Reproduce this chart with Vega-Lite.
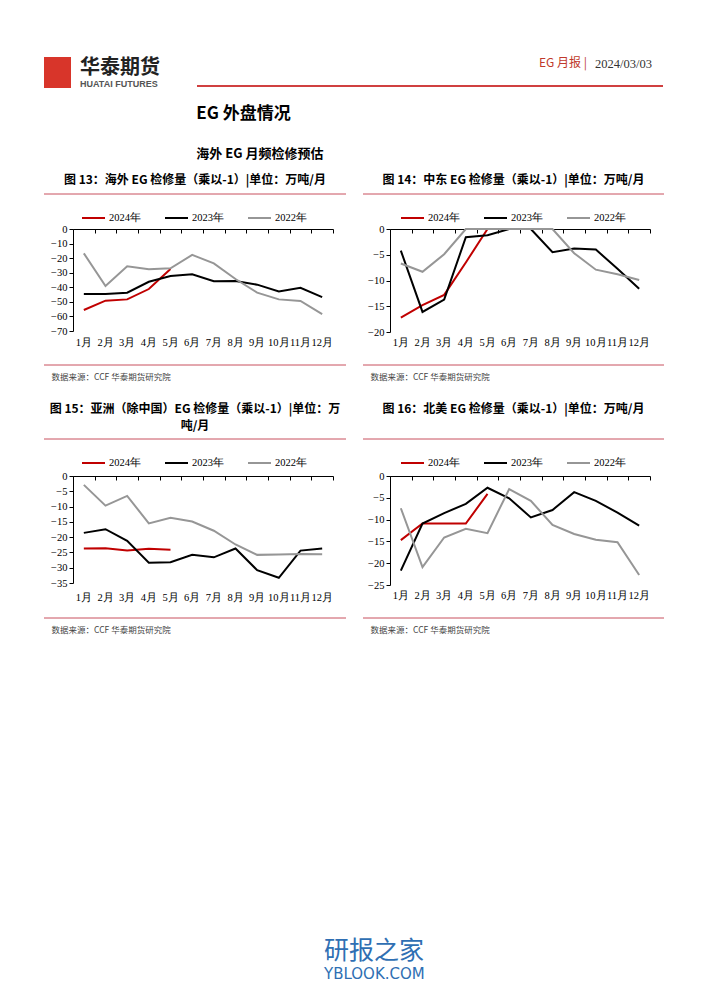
{
  "$schema": "https://vega.github.io/schema/vega-lite/v6.json",
  "background": "white",
  "padding": {"left": 43, "top": 57, "right": 0, "bottom": 0},
  "config": {
    "view": {"stroke": null},
    "axis": {"labelFont": "Liberation Serif", "labelFontSize": 10.5, "labelColor": "#000", "domainColor": "#000", "tickColor": "#000", "grid": false},
    "legend": {"orient": "none", "direction": "horizontal", "symbolType": "stroke", "symbolSize": 529, "symbolStrokeWidth": 2, "labelFont": "Liberation Serif", "labelFontSize": 10.5, "labelColor": "#000", "labelOffset": 3, "columnPadding": 20, "padding": 0}
  },
  "datasets": {
    "rule": [{"line": 0}],
    "c13": [
      {"m": 1, "s": "2024年", "v": -55.6}, {"m": 2, "s": "2024年", "v": -49.2}, {"m": 3, "s": "2024年", "v": -48.3}, {"m": 4, "s": "2024年", "v": -41.2}, {"m": 5, "s": "2024年", "v": -27.5},
      {"m": 1, "s": "2023年", "v": -44.6}, {"m": 2, "s": "2023年", "v": -44.6}, {"m": 3, "s": "2023年", "v": -43.7}, {"m": 4, "s": "2023年", "v": -36.2}, {"m": 5, "s": "2023年", "v": -32.3}, {"m": 6, "s": "2023年", "v": -31.1}, {"m": 7, "s": "2023年", "v": -35.9}, {"m": 8, "s": "2023年", "v": -35.7}, {"m": 9, "s": "2023年", "v": -38.2}, {"m": 10, "s": "2023年", "v": -42.8}, {"m": 11, "s": "2023年", "v": -40.3}, {"m": 12, "s": "2023年", "v": -46.7},
      {"m": 1, "s": "2022年", "v": -16.7}, {"m": 2, "s": "2022年", "v": -39.1}, {"m": 3, "s": "2022年", "v": -25.6}, {"m": 4, "s": "2022年", "v": -27.7}, {"m": 5, "s": "2022年", "v": -27.0}, {"m": 6, "s": "2022年", "v": -17.8}, {"m": 7, "s": "2022年", "v": -23.6}, {"m": 8, "s": "2022年", "v": -34.3}, {"m": 9, "s": "2022年", "v": -43.7}, {"m": 10, "s": "2022年", "v": -48.3}, {"m": 11, "s": "2022年", "v": -49.4}, {"m": 12, "s": "2022年", "v": -58.4}
    ],
    "c14": [
      {"m": 1, "s": "2024年", "v": -17.2}, {"m": 2, "s": "2024年", "v": -14.8}, {"m": 3, "s": "2024年", "v": -12.8}, {"m": 4, "s": "2024年", "v": -6.5}, {"m": 5, "s": "2024年", "v": 0},
      {"m": 1, "s": "2023年", "v": -4.2}, {"m": 2, "s": "2023年", "v": -16.1}, {"m": 3, "s": "2023年", "v": -13.7}, {"m": 4, "s": "2023年", "v": -1.6}, {"m": 5, "s": "2023年", "v": -1.2}, {"m": 6, "s": "2023年", "v": 0}, {"m": 7, "s": "2023年", "v": 0}, {"m": 8, "s": "2023年", "v": -4.5}, {"m": 9, "s": "2023年", "v": -3.8}, {"m": 10, "s": "2023年", "v": -4.0}, {"m": 11, "s": "2023年", "v": -7.7}, {"m": 12, "s": "2023年", "v": -11.6},
      {"m": 1, "s": "2022年", "v": -6.7}, {"m": 2, "s": "2022年", "v": -8.3}, {"m": 3, "s": "2022年", "v": -4.9}, {"m": 4, "s": "2022年", "v": 0}, {"m": 5, "s": "2022年", "v": 0}, {"m": 6, "s": "2022年", "v": 0}, {"m": 7, "s": "2022年", "v": 0}, {"m": 8, "s": "2022年", "v": 0}, {"m": 9, "s": "2022年", "v": -4.7}, {"m": 10, "s": "2022年", "v": -7.9}, {"m": 11, "s": "2022年", "v": -8.8}, {"m": 12, "s": "2022年", "v": -9.9}
    ],
    "c15": [
      {"m": 1, "s": "2024年", "v": -23.7}, {"m": 2, "s": "2024年", "v": -23.6}, {"m": 3, "s": "2024年", "v": -24.4}, {"m": 4, "s": "2024年", "v": -23.8}, {"m": 5, "s": "2024年", "v": -24.1},
      {"m": 1, "s": "2023年", "v": -18.6}, {"m": 2, "s": "2023年", "v": -17.4}, {"m": 3, "s": "2023年", "v": -21.2}, {"m": 4, "s": "2023年", "v": -28.4}, {"m": 5, "s": "2023年", "v": -28.2}, {"m": 6, "s": "2023年", "v": -25.8}, {"m": 7, "s": "2023年", "v": -26.6}, {"m": 8, "s": "2023年", "v": -23.7}, {"m": 9, "s": "2023年", "v": -30.8}, {"m": 10, "s": "2023年", "v": -33.3}, {"m": 11, "s": "2023年", "v": -24.4}, {"m": 12, "s": "2023年", "v": -23.7},
      {"m": 1, "s": "2022年", "v": -2.9}, {"m": 2, "s": "2022年", "v": -9.7}, {"m": 3, "s": "2022年", "v": -6.5}, {"m": 4, "s": "2022年", "v": -15.5}, {"m": 5, "s": "2022年", "v": -13.7}, {"m": 6, "s": "2022年", "v": -14.9}, {"m": 7, "s": "2022年", "v": -17.9}, {"m": 8, "s": "2022年", "v": -22.4}, {"m": 9, "s": "2022年", "v": -25.8}, {"m": 10, "s": "2022年", "v": -25.7}, {"m": 11, "s": "2022年", "v": -25.5}, {"m": 12, "s": "2022年", "v": -25.6}
    ],
    "c16": [
      {"m": 1, "s": "2024年", "v": -14.7}, {"m": 2, "s": "2024年", "v": -10.9}, {"m": 3, "s": "2024年", "v": -10.9}, {"m": 4, "s": "2024年", "v": -10.9}, {"m": 5, "s": "2024年", "v": -4.1},
      {"m": 1, "s": "2023年", "v": -21.7}, {"m": 2, "s": "2023年", "v": -10.9}, {"m": 3, "s": "2023年", "v": -8.5}, {"m": 4, "s": "2023年", "v": -6.4}, {"m": 5, "s": "2023年", "v": -2.7}, {"m": 6, "s": "2023年", "v": -5.1}, {"m": 7, "s": "2023年", "v": -9.5}, {"m": 8, "s": "2023年", "v": -7.8}, {"m": 9, "s": "2023年", "v": -3.7}, {"m": 10, "s": "2023年", "v": -5.7}, {"m": 11, "s": "2023年", "v": -8.4}, {"m": 12, "s": "2023年", "v": -11.4},
      {"m": 1, "s": "2022年", "v": -7.4}, {"m": 2, "s": "2022年", "v": -20.9}, {"m": 3, "s": "2022年", "v": -14.1}, {"m": 4, "s": "2022年", "v": -12.1}, {"m": 5, "s": "2022年", "v": -13.1}, {"m": 6, "s": "2022年", "v": -3.0}, {"m": 7, "s": "2022年", "v": -5.7}, {"m": 8, "s": "2022年", "v": -11.2}, {"m": 9, "s": "2022年", "v": -13.3}, {"m": 10, "s": "2022年", "v": -14.6}, {"m": 11, "s": "2022年", "v": -15.2}, {"m": 12, "s": "2022年", "v": -22.7}
    ]
  },
  "spacing": 305,
  "vconcat": [
    {
      "spacing": 13,
      "vconcat": [
        {
          "spacing": 36,
          "hconcat": [
            {
              "spacing": 9,
              "hconcat": [
                {"width": 27, "height": 31, "data": {"values": [{"logo": "华泰期货"}]}, "mark": {"type": "rect", "color": "#D8352A"}, "encoding": {}},
                {"width": 1, "height": 1, "title": {"text": "华泰期货", "subtitle": "HUATAI FUTURES", "anchor": "start", "orient": "bottom", "offset": 0, "font": "Noto Sans CJK SC", "fontSize": 20, "fontWeight": "bold", "color": "#222", "subtitleFont": "Liberation Sans", "subtitleFontSize": 9, "subtitleFontWeight": "bold", "subtitleColor": "#555", "subtitlePadding": 2}, "mark": {"type": "rule", "strokeOpacity": 0}, "encoding": {}}
              ]
            },
            {
              "spacing": 14,
              "vconcat": [
                {
                  "spacing": 8,
                  "hconcat": [
                    {"width": 390, "height": 1, "title": {"text": "EG 月报 |", "anchor": "end", "orient": "bottom", "offset": 0, "font": "Noto Sans CJK SC", "fontSize": 12, "fontWeight": "normal", "color": "#C0392B"}, "mark": {"type": "rule", "strokeOpacity": 0}, "encoding": {}},
                    {"width": 1, "height": 1, "title": {"text": "2024/03/03", "anchor": "start", "orient": "bottom", "offset": 0, "font": "Liberation Serif", "fontSize": 12.5, "fontWeight": "normal", "color": "#333"}, "mark": {"type": "rule", "strokeOpacity": 0}, "encoding": {}}
                  ]
                },
                {
                  "width": 466, "height": 1,
                  "data": {"name": "rule"},
                  "title": {"text": "EG 外盘情况", "subtitle": "海外 EG 月频检修预估", "anchor": "start", "orient": "bottom", "offset": 19, "font": "Noto Sans CJK SC", "fontSize": 17, "fontWeight": "bold", "color": "#000", "subtitleFont": "Noto Sans CJK SC", "subtitleFontSize": 13, "subtitleFontWeight": "bold", "subtitleColor": "#000", "subtitlePadding": 25},
                  "mark": {"type": "rule", "color": "#C00000", "strokeWidth": 1.5},
                  "encoding": {"y": {"datum": 0, "axis": null, "scale": {"domain": [0, 1]}}}
                }
              ]
            }
          ]
        },
        {
          "spacing": 22,
          "vconcat": [
            {
              "spacing": 15,
              "hconcat": [
                {
                  "spacing": 10,
                  "resolve": {"scale": {"color": "independent"}, "legend": {"color": "independent"}},
                  "vconcat": [
                    {"width": 302, "height": 1, "data": {"name": "rule"}, "title": {"text": "图 13：海外 EG 检修量（乘以-1）|单位：万吨/月", "anchor": "middle", "orient": "top", "offset": 6, "font": "Noto Sans CJK SC", "fontSize": 12, "fontWeight": "bold", "color": "#000"}, "mark": {"type": "rule", "color": "#C8505F", "strokeWidth": 1}, "encoding": {"y": {"datum": 0, "axis": null, "scale": {"domain": [0, 1]}}}},
                    {
                      "width": 302, "height": 102,
                      "data": {"name": "c13"},
                      "encoding": {
                        "y": {"field": "v", "type": "quantitative", "scale": {"domain": [-70, 0], "nice": false, "zero": false}, "axis": {"values": [0, -10, -20, -30, -40, -50, -60, -70], "title": null, "tickSize": 4, "labelPadding": 2, "offset": -29, "labelOverlap": false}}
                      },
                      "layer": [
                        {"mark": {"type": "line", "strokeWidth": 2},
                         "encoding": {
                           "x": {"field": "m", "type": "ordinal", "scale": {"type": "band", "paddingInner": 0, "paddingOuter": 0, "range": [29, 289]}, "axis": {"orient": "bottom", "domain": false, "ticks": false, "labelAngle": 0, "labelPadding": 6, "minExtent": 23, "labelExpr": "datum.label + '月'", "title": null}},
                           "color": {"field": "s", "type": "nominal", "scale": {"domain": ["2024年", "2023年", "2022年"], "range": ["#C00000", "#000000", "#969696"]}, "legend": {"title": null, "legendX": 37, "legendY": -23.5}}
                         }},
                        {"mark": {"type": "line", "opacity": 0},
                         "encoding": {
                           "x": {"field": "m", "type": "ordinal", "axis": {"orient": "top", "labels": false, "domain": true, "ticks": true, "tickBand": "extent", "tickSize": -4, "title": null}}
                         }}
                      ],
                      "resolve": {"axis": {"x": "independent"}}
                    },
                    {"width": 302, "height": 1, "data": {"name": "rule"}, "title": {"text": "数据来源：CCF 华泰期货研究院", "anchor": "start", "orient": "bottom", "offset": 7, "dx": 8, "font": "Noto Sans CJK SC", "fontSize": 8.5, "fontWeight": "normal", "color": "#444"}, "mark": {"type": "rule", "color": "#C8505F", "strokeWidth": 1}, "encoding": {"y": {"datum": 0, "axis": null, "scale": {"domain": [0, 1]}}}}
                  ]
                },
                {
                  "spacing": 10,
                  "resolve": {"scale": {"color": "independent"}, "legend": {"color": "independent"}},
                  "vconcat": [
                    {"width": 301, "height": 1, "data": {"name": "rule"}, "title": {"text": "图 14：中东 EG 检修量（乘以-1）|单位：万吨/月", "anchor": "middle", "orient": "top", "offset": 6, "font": "Noto Sans CJK SC", "fontSize": 12, "fontWeight": "bold", "color": "#000"}, "mark": {"type": "rule", "color": "#C8505F", "strokeWidth": 1}, "encoding": {"y": {"datum": 0, "axis": null, "scale": {"domain": [0, 1]}}}},
                    {
                      "width": 301, "height": 103,
                      "data": {"name": "c14"},
                      "encoding": {
                        "y": {"field": "v", "type": "quantitative", "scale": {"domain": [-20, 0], "nice": false, "zero": false}, "axis": {"values": [0, -5, -10, -15, -20], "title": null, "tickSize": 4, "labelPadding": 2, "offset": -27, "labelOverlap": false}}
                      },
                      "layer": [
                        {"mark": {"type": "line", "strokeWidth": 2},
                         "encoding": {
                           "x": {"field": "m", "type": "ordinal", "scale": {"type": "band", "paddingInner": 0, "paddingOuter": 0, "range": [27, 287]}, "axis": {"orient": "bottom", "domain": false, "ticks": false, "labelAngle": 0, "labelPadding": 5, "minExtent": 22, "labelExpr": "datum.label + '月'", "title": null}},
                           "color": {"field": "s", "type": "nominal", "scale": {"domain": ["2024年", "2023年", "2022年"], "range": ["#C00000", "#000000", "#969696"]}, "legend": {"title": null, "legendX": 37, "legendY": -23.5}}
                         }},
                        {"mark": {"type": "line", "opacity": 0},
                         "encoding": {
                           "x": {"field": "m", "type": "ordinal", "axis": {"orient": "top", "labels": false, "domain": true, "ticks": true, "tickBand": "extent", "tickSize": -4, "title": null}}
                         }}
                      ],
                      "resolve": {"axis": {"x": "independent"}}
                    },
                    {"width": 301, "height": 1, "data": {"name": "rule"}, "title": {"text": "数据来源：CCF 华泰期货研究院", "anchor": "start", "orient": "bottom", "offset": 7, "dx": 8, "font": "Noto Sans CJK SC", "fontSize": 8.5, "fontWeight": "normal", "color": "#444"}, "mark": {"type": "rule", "color": "#C8505F", "strokeWidth": 1}, "encoding": {"y": {"datum": 0, "axis": null, "scale": {"domain": [0, 1]}}}}
                  ]
                }
              ]
            },
            {
              "spacing": 15,
              "hconcat": [
                {
                  "spacing": 10,
                  "resolve": {"scale": {"color": "independent"}, "legend": {"color": "independent"}},
                  "vconcat": [
                    {"width": 302, "height": 1, "data": {"name": "rule"}, "title": {"text": ["图 15：亚洲（除中国）EG 检修量（乘以-1）|单位：万", "吨/月"], "lineHeight": 17, "anchor": "middle", "orient": "top", "offset": 5, "font": "Noto Sans CJK SC", "fontSize": 12, "fontWeight": "bold", "color": "#000"}, "mark": {"type": "rule", "color": "#C8505F", "strokeWidth": 1}, "encoding": {"y": {"datum": 0, "axis": null, "scale": {"domain": [0, 1]}}}},
                    {
                      "width": 302, "height": 107,
                      "data": {"name": "c15"},
                      "encoding": {
                        "y": {"field": "v", "type": "quantitative", "scale": {"domain": [-35, 0], "nice": false, "zero": false}, "axis": {"values": [0, -5, -10, -15, -20, -25, -30, -35], "title": null, "tickSize": 4, "labelPadding": 2, "offset": -29, "labelOverlap": false}}
                      },
                      "layer": [
                        {"mark": {"type": "line", "strokeWidth": 2},
                         "encoding": {
                           "x": {"field": "m", "type": "ordinal", "scale": {"type": "band", "paddingInner": 0, "paddingOuter": 0, "range": [29, 289]}, "axis": {"orient": "bottom", "domain": false, "ticks": false, "labelAngle": 0, "labelPadding": 9, "minExtent": 24, "labelExpr": "datum.label + '月'", "title": null}},
                           "color": {"field": "s", "type": "nominal", "scale": {"domain": ["2024年", "2023年", "2022年"], "range": ["#C00000", "#000000", "#969696"]}, "legend": {"title": null, "legendX": 37, "legendY": -25.5}}
                         }},
                        {"mark": {"type": "line", "opacity": 0},
                         "encoding": {
                           "x": {"field": "m", "type": "ordinal", "axis": {"orient": "top", "labels": false, "domain": true, "ticks": true, "tickBand": "extent", "tickSize": -4, "title": null}}
                         }}
                      ],
                      "resolve": {"axis": {"x": "independent"}}
                    },
                    {"width": 302, "height": 1, "data": {"name": "rule"}, "title": {"text": "数据来源：CCF 华泰期货研究院", "anchor": "start", "orient": "bottom", "offset": 7, "dx": 8, "font": "Noto Sans CJK SC", "fontSize": 8.5, "fontWeight": "normal", "color": "#444"}, "mark": {"type": "rule", "color": "#C8505F", "strokeWidth": 1}, "encoding": {"y": {"datum": 0, "axis": null, "scale": {"domain": [0, 1]}}}}
                  ]
                },
                {
                  "spacing": 10,
                  "resolve": {"scale": {"color": "independent"}, "legend": {"color": "independent"}},
                  "vconcat": [
                    {"width": 301, "height": 1, "data": {"name": "rule"}, "title": {"text": "图 16：北美 EG 检修量（乘以-1）|单位：万吨/月", "anchor": "middle", "orient": "top", "offset": 22, "font": "Noto Sans CJK SC", "fontSize": 12, "fontWeight": "bold", "color": "#000"}, "mark": {"type": "rule", "color": "#C8505F", "strokeWidth": 1}, "encoding": {"y": {"datum": 0, "axis": null, "scale": {"domain": [0, 1]}}}},
                    {
                      "width": 301, "height": 109,
                      "data": {"name": "c16"},
                      "encoding": {
                        "y": {"field": "v", "type": "quantitative", "scale": {"domain": [-25, 0], "nice": false, "zero": false}, "axis": {"values": [0, -5, -10, -15, -20, -25], "title": null, "tickSize": 4, "labelPadding": 2, "offset": -27, "labelOverlap": false}}
                      },
                      "layer": [
                        {"mark": {"type": "line", "strokeWidth": 2},
                         "encoding": {
                           "x": {"field": "m", "type": "ordinal", "scale": {"type": "band", "paddingInner": 0, "paddingOuter": 0, "range": [27, 287]}, "axis": {"orient": "bottom", "domain": false, "ticks": false, "labelAngle": 0, "labelPadding": 5, "minExtent": 22, "labelExpr": "datum.label + '月'", "title": null}},
                           "color": {"field": "s", "type": "nominal", "scale": {"domain": ["2024年", "2023年", "2022年"], "range": ["#C00000", "#000000", "#969696"]}, "legend": {"title": null, "legendX": 37, "legendY": -25.5}}
                         }},
                        {"mark": {"type": "line", "opacity": 0},
                         "encoding": {
                           "x": {"field": "m", "type": "ordinal", "axis": {"orient": "top", "labels": false, "domain": true, "ticks": true, "tickBand": "extent", "tickSize": -4, "title": null}}
                         }}
                      ],
                      "resolve": {"axis": {"x": "independent"}}
                    },
                    {"width": 301, "height": 1, "data": {"name": "rule"}, "title": {"text": "数据来源：CCF 华泰期货研究院", "anchor": "start", "orient": "bottom", "offset": 7, "dx": 8, "font": "Noto Sans CJK SC", "fontSize": 8.5, "fontWeight": "normal", "color": "#444"}, "mark": {"type": "rule", "color": "#C8505F", "strokeWidth": 1}, "encoding": {"y": {"datum": 0, "axis": null, "scale": {"domain": [0, 1]}}}}
                  ]
                }
              ]
            }
          ]
        }
      ]
    },
    {"width": 1, "height": 1, "title": {"text": "研报之家", "subtitle": "YBLOOK.COM", "anchor": "start", "orient": "top", "offset": 0, "dx": 280, "font": "Noto Sans CJK SC", "fontSize": 25, "fontWeight": "normal", "color": "#2F6FB3", "subtitleFont": "DejaVu Sans", "subtitleFontSize": 15, "subtitleColor": "#2F6FB3", "subtitlePadding": 3}, "mark": {"type": "rule", "strokeOpacity": 0}, "encoding": {}}
  ]
}
